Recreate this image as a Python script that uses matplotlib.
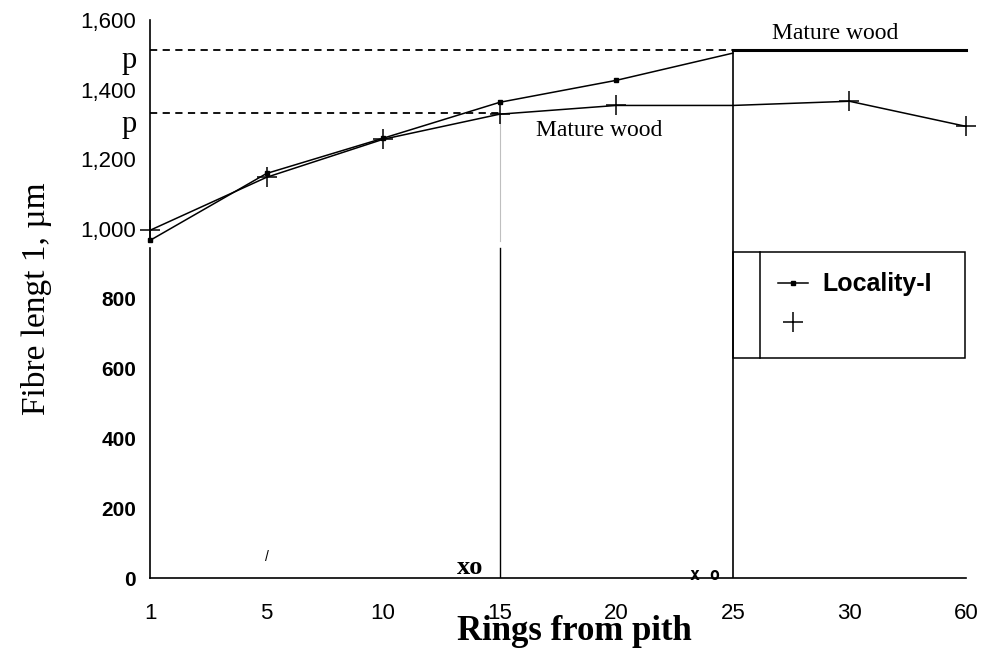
import matplotlib.pyplot as plt
from matplotlib.lines import Line2D
from matplotlib.patches import Rectangle

# rings from pith (categorical axis) and fibre length, um
rings = ['1', '5', '10', '15', '20', '25', '30', '60']
locality1 = [968, 1160, 1261, 1364, 1427, 1505]
locality2 = [997, 1149, 1258, 1330, 1355, 1355, 1367, 1295]
p_levels = [1515, 1332]          # juvenile/mature transition levels
p_rings = [5, 3]                 # index of ring where each p line ends
mature_level = 1515
yticks = [0, 200, 400, 600, 800, 1000, 1200, 1400, 1600]
yticklabels = ['0', '200', '400', '600', '800', '1,000', '1,200', '1,400', '1,600']

serif = 'Liberation Serif'
sans = 'Liberation Sans'

fig = plt.figure(figsize=(9.91, 6.54), dpi=100)
ax = fig.add_axes([150/991, 76/654, 816/991, 558/654])
x = list(range(len(rings)))

ax.set_xlim(0, len(rings) - 1)
ax.set_ylim(0, 1600)
for s in ['top', 'right', 'left']:
    ax.spines[s].set_visible(False)
ax.spines['bottom'].set_linewidth(1.2)

# broken y axis line as in the scan
ax.plot([0, 0], [975, 1600], color='k', lw=1.2, clip_on=False)
ax.plot([0, 0], [0, 945], color='k', lw=1.2, clip_on=False)

# dashed p lines
for lvl, r in zip(p_levels, p_rings):
    ax.plot([0, r], [lvl, lvl], ls=(0, (4, 3)), color='k', lw=1.3)
    ax.text(-0.11, lvl + 10, 'p', family=serif, fontsize=22, ha='right', va='top')

# vertical markers at 15 and 25
ax.plot([3, 3], [965, p_levels[1]], color='0.75', lw=0.8)
ax.plot([3, 3], [0, 945], color='k', lw=1.0)
ax.plot([5, 5], [0, mature_level], color='k', lw=1.2)
ax.plot([5, 7], [mature_level, mature_level], color='k', lw=2.2, clip_on=False)

ax.plot(x[:len(locality1)], locality1, color='k', lw=1.1, marker='s', ms=3.5,
        markevery=list(range(len(locality1) - 1)), clip_on=False)
ax.plot(x, locality2, color='k', lw=1.1, marker='+', ms=14, mew=1.1,
        markevery=[0, 1, 2, 3, 4, 6, 7], clip_on=False)

ax.text(5.88, 1560, 'Mature wood', family=serif, fontsize=17, ha='center', va='center')
ax.text(3.85, 1282, 'Mature wood', family=serif, fontsize=17, ha='center', va='center')

ax.text(2.75, 30, 'xo', family=serif, fontweight='bold', fontsize=19, ha='center', va='center')
ax.text(4.76, 10, 'x o', family='DejaVu Sans Mono', fontweight='bold', fontsize=12,
        ha='center', va='center')
ax.text(1.0, 60, '/', family=sans, fontsize=10, ha='center', va='center')

# legend frame with divider
ax.add_patch(Rectangle((5, 631), 1.99, 304, fill=False, lw=1.1, clip_on=False))
ax.plot([5.23, 5.23], [631, 935], color='k', lw=1.1, clip_on=False)
handles = [Line2D([], [], color='k', lw=1.1, marker='s', ms=3.5),
           Line2D([], [], color='k', lw=0, marker='+', ms=14, mew=1.1)]
ax.legend(handles, ['Locality-I', ''], loc='upper left', bbox_to_anchor=(0.754, 0.57),
          frameon=False, borderpad=0, handlelength=1.2, handletextpad=0.6,
          labelspacing=0.6, prop={'family': sans, 'weight': 'bold', 'size': 18})

ax.set_xticks(x)
ax.set_xticklabels(rings, family=sans, fontsize=16)
ax.set_yticks(yticks)
ax.set_yticklabels(yticklabels, family=sans, fontsize=16)
for lbl, v in zip(ax.get_yticklabels(), yticks):
    if v < 1000:
        lbl.set_fontweight('bold')
        lbl.set_fontsize(15)
ax.tick_params(axis='both', length=0, pad=10)
ax.tick_params(axis='x', pad=18)

ax.set_xlabel('Rings from pith', family=serif, fontweight='bold', fontsize=25, va='top')
ax.xaxis.set_label_coords(0.52, -0.066)
ax.set_ylabel('Fibre lengt 1, µm', family=serif, fontsize=24)
ax.yaxis.set_label_coords(-0.12, 0.5)

fig.savefig('out.png', dpi=100)
